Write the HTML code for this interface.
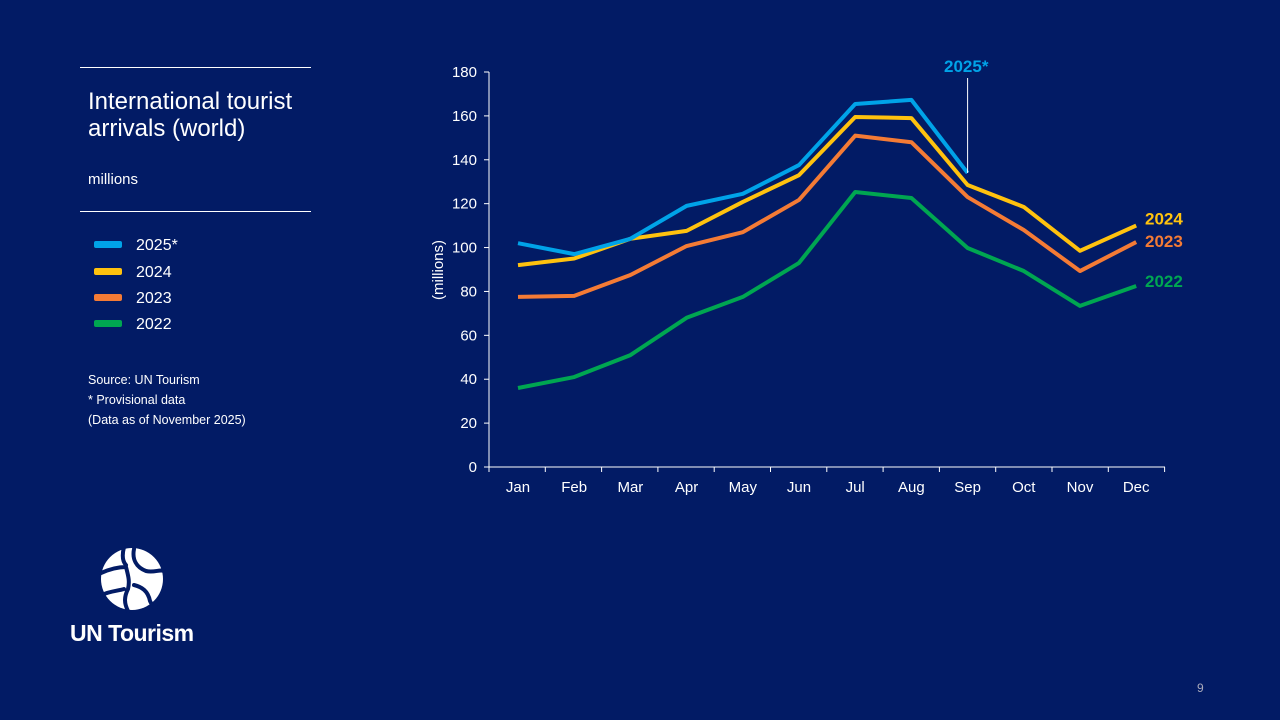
<!DOCTYPE html>
<html><head><meta charset="utf-8"><style>
body{margin:0;width:1280px;height:720px;background:#021b65;font-family:"Liberation Sans",sans-serif;color:#fff;position:relative;overflow:hidden}
.abs{position:absolute}
.leg{position:absolute;left:94px;font-size:16px;height:20px;line-height:20px}
.leg i{display:inline-block;width:28px;height:7px;border-radius:2px;vertical-align:middle;margin-right:14px;margin-top:-3px}
</style></head><body>
<div class="abs" style="left:80px;top:67px;width:231px;height:1px;background:#fff"></div>
<div class="abs" style="left:88px;top:88px;font-size:24px;line-height:27px">International tourist<br>arrivals (world)</div>
<div class="abs" style="left:88px;top:171px;font-size:15px">millions</div>
<div class="abs" style="left:80px;top:211px;width:231px;height:1px;background:#fff"></div>
<div class="leg" style="top:236px"><i style="background:#00a3e8"></i>2025*</div>
<div class="leg" style="top:263px"><i style="background:#ffc20e"></i>2024</div>
<div class="leg" style="top:289px"><i style="background:#f47b35"></i>2023</div>
<div class="leg" style="top:315px"><i style="background:#00a651"></i>2022</div>
<div class="abs" style="left:88px;top:370px;font-size:12.5px;line-height:20px">Source: UN Tourism<br>* Provisional data<br>(Data as of November 2025)</div>
<svg class="abs" style="left:98px;top:545px" width="70" height="70" viewBox="0 0 70 70">
<circle cx="34" cy="34" r="31" fill="#fff"/>
<path d="M26 2 C24 10 24 16 28 20 M3 28 C12 24 20 22 28 22 M28 22 C30 30 32 36 30 44 C26 52 26 58 30 66 M36 4 C34 14 38 22 48 26 C56 28 62 24 66 26 M36 40 C44 42 50 46 52 56 C54 60 56 64 58 62 M4 50 C12 46 20 46 26 44" stroke="#021b65" stroke-width="4" fill="none" stroke-linecap="round"/>
</svg>
<div class="abs" style="left:70px;top:620px;font-size:23px;font-weight:bold;letter-spacing:-0.5px">UN Tourism</div>
<div class="abs" style="left:1197px;top:681px;font-size:12px;color:#aab">9</div>
<svg id="chart" class="abs" style="left:0;top:0" width="1280" height="720"></svg>
<script>
const months=["Jan","Feb","Mar","Apr","May","Jun","Jul","Aug","Sep","Oct","Nov","Dec"];
const yTicks=[0,20,40,60,80,100,120,140,160,180];
const s2025=[102,97,104,119,124.5,137.6,165.4,167.3,134];
const s2024=[92,95,104,107.6,120.8,133,159.5,159,128.5,118.5,98.5,110];
const s2023=[77.5,78,87.5,100.7,107,121.7,151,148,123,108,89.3,102.5];
const s2022=[36,41,51,68,77.5,93,125.3,122.6,99.8,89.3,73.4,82.5];
const NS="http://www.w3.org/2000/svg";
const svg=document.getElementById('chart');
const x=i=>518+i*56.2;
const y=v=>467-v*395/180;
function mk(t,a,p){const e=document.createElementNS(NS,t);for(const k in a)e.setAttribute(k,a[k]);(p||svg).appendChild(e);return e;}
let ax=mk('line',{x1:489,y1:y(0),x2:489,y2:y(180),stroke:'#fff','stroke-width':1});


yTicks.forEach(v=>{
 mk('line',{x1:484,x2:489,y1:y(v),y2:y(v),stroke:'#fff'});
 const t=mk('text',{x:477,y:y(v)+5,fill:'#fff','font-size':15,'text-anchor':'end'});t.textContent=v;
 
 
});
let xa=mk('line',{x1:489,y1:y(0),x2:1165,y2:y(0),stroke:'#fff'});


for(let i=0;i<=12;i++)mk('line',{x1:489+i*56.3,x2:489+i*56.3,y1:y(0),y2:y(0)+5,stroke:'#fff'});
months.forEach((m,i)=>{const t=mk('text',{x:x(i),y:492,fill:'#fff','font-size':15,'text-anchor':'middle'});t.textContent=m;
 
 });
const yt=mk('text',{x:0,y:0,fill:'#fff','font-size':15,'text-anchor':'middle',transform:'translate(443,270) rotate(-90)'});yt.textContent='(millions)';


function line(d,c,n){const p=mk('polyline',{points:d.map((v,i)=>x(i)+','+y(v)).join(' '),fill:'none',stroke:c,'stroke-width':4,'stroke-linejoin':'round'});
 
 }
line(s2022,'#00a651','line-2022');
line(s2023,'#f47b35','line-2023');
line(s2024,'#ffc20e','line-2024');
line(s2025,'#00a3e8','line-2025');
function lab(txt,xx,yy,c,n){const t=mk('text',{x:xx,y:yy,fill:c,'font-size':17,'font-weight':'bold'});t.textContent=txt;
 
 }
lab('2024',1145,y(s2024[11])-1,'#ffc20e','label-2024');
lab('2023',1145,y(s2023[11])+5,'#f47b35','label-2023');
lab('2022',1145,y(s2022[11])+1,'#00a651','label-2022');
const li=s2025.length-1;
mk('line',{x1:x(li),x2:x(li),y1:y(s2025[li]),y2:78,stroke:'#fff','stroke-width':1});
lab('2025*',944,72,'#00a3e8','label-2025');
</script>
</body></html>
